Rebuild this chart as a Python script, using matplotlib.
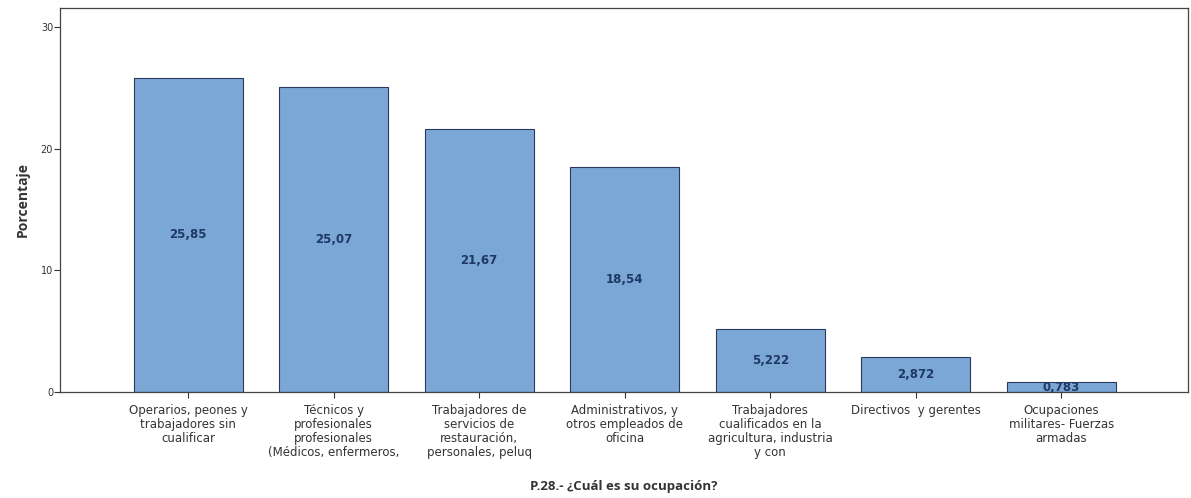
import matplotlib.pyplot as plt
import numpy as np

categories = [
    'Operarios, peones y\ntrabajadores sin\ncualificar',
    'Técnicos y\nprofesionales\nprofesionales\n(Médicos, enfermeros,',
    'Trabajadores de\nservicios de\nrestauración,\npersonales, peluq',
    'Administrativos, y\notros empleados de\noficina',
    'Trabajadores\ncualificados en la\nagricultura, industria\ny con',
    'Directivos  y gerentes',
    'Ocupaciones\nmilitares- Fuerzas\narmadas',
]
values = [25.85, 25.07, 21.67, 18.54, 5.222, 2.872, 0.783]
value_labels = ['25,85', '25,07', '21,67', '18,54', '5,222', '2,872', '0,783']
yticks = [0, 10, 20, 30]

fig = plt.figure(figsize=(11.91, 4.98), dpi=100)
ax = fig.add_axes([0.0504, 0.2129, 0.9471, 0.7711])

x = np.arange(len(categories))
bars = ax.bar(x, values, width=0.75, color='#7ba7d7', edgecolor='#2a3a5a', linewidth=0.8)

for xi, v, lab in zip(x, values, value_labels):
    ax.text(xi, v / 2, lab, ha='center', va='center', fontsize=8.5,
            fontweight='bold', color='#1f3864')

ax.set_xlim(-0.88, 6.87)
ax.set_ylim(0, 31.6)
ax.set_yticks(yticks)
ax.set_yticklabels([str(t) for t in yticks], fontsize=7, color='#333333')
ax.set_xticks(x)
ax.set_xticklabels(categories, fontsize=8.5, color='#333333', linespacing=1.1)
ax.tick_params(axis='x', length=4, width=0.8, color='#333333', pad=5)
ax.tick_params(axis='y', length=4, width=0.8, color='#333333', pad=1)

for s in ax.spines.values():
    s.set_color('#444444')
    s.set_linewidth(0.9)

ax.set_ylabel('Porcentaje', fontsize=10, fontweight='bold', color='#333333',
              family='Open Sans', labelpad=8)
ax.set_xlabel('P.28.- ¿Cuál es su ocupación?', fontsize=9.5, fontweight='bold',
              color='#333333', family='Open Sans', labelpad=15)

fig.savefig('out.png', dpi=100, facecolor='white')
